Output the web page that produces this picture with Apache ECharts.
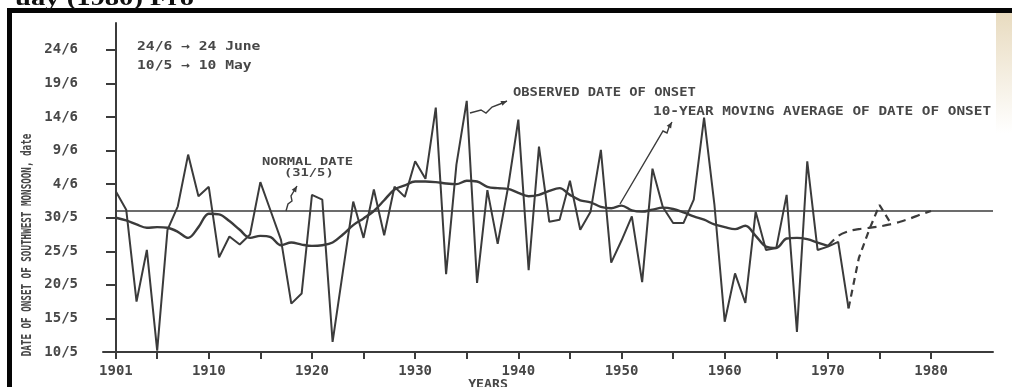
<!DOCTYPE html>
<html>
<head>
<meta charset="utf-8">
<script src="https://cdn.jsdelivr.net/npm/echarts@6/dist/echarts.min.js"></script>
<style>
  html, body { margin: 0; padding: 0; background: #ffffff; }
  #chart { width: 1012px; height: 387px; }
</style>
</head>
<body>
<div id="chart"></div>
<script>
// Onset date of the southwest monsoon, expressed as day of May
// (31 = 31 May, 35 = 4 June, 55 = 24 June).
const onsetYears = [
  1901, 1902, 1903, 1904, 1905, 1906, 1907, 1908, 1909, 1910,
  1911, 1912, 1913, 1914, 1915, 1916, 1917, 1918, 1919, 1920,
  1921, 1922, 1923, 1924, 1925, 1926, 1927, 1928, 1929, 1930,
  1931, 1932, 1933, 1934, 1935, 1936, 1937, 1938, 1939, 1940,
  1941, 1942, 1943, 1944, 1945, 1946, 1947, 1948, 1949, 1950,
  1951, 1952, 1953, 1954, 1955, 1956, 1957, 1958, 1959, 1960,
  1961, 1962, 1963, 1964, 1965, 1966, 1967, 1968, 1969, 1970,
  1971, 1972
];
const observedOnset = [
  33.9, 31.2, 17.5, 25.2, 10.2, 28.2, 31.7, 39.4, 33.2, 34.6,
  24.1, 27.2, 26.0, 27.5, 35.3, 31.0, 26.7, 17.2, 18.7, 33.4,
  32.7, 11.5, 22.0, 32.4, 27.0, 34.2, 27.4, 34.6, 33.1, 38.4,
  35.8, 46.4, 21.6, 37.9, 47.4, 20.3, 34.1, 26.1, 34.5, 44.6,
  22.2, 40.6, 29.4, 29.7, 35.5, 28.2, 30.9, 40.1, 23.3, 26.6,
  30.2, 20.4, 37.3, 31.6, 29.2, 29.2, 32.7, 44.9, 32.0, 14.5,
  21.7, 17.3, 30.9, 25.2, 25.5, 33.4, 13.0, 38.4, 25.2, 25.7,
  26.4, 16.5
];
// 10-year moving average, 1901-1970
const movingAverage = [
  30.0, 29.6, 29.0, 28.5, 28.6, 28.5, 27.9, 27.0, 28.6, 30.6,
  30.5, 29.5, 28.2, 27.0, 27.3, 27.1, 25.9, 26.3, 26.0, 25.8,
  25.9, 26.3, 27.5, 28.9, 29.9, 31.0, 32.6, 34.2, 34.8, 35.4,
  35.4, 35.3, 35.1, 35.0, 35.5, 35.4, 34.6, 34.4, 34.3, 33.7,
  33.2, 33.4, 34.0, 34.4, 33.4, 32.6, 32.3, 31.6, 31.4, 31.8,
  31.1, 30.9, 31.2, 31.5, 31.3, 30.8, 30.2, 29.7, 29.0, 28.6,
  28.3, 28.8, 27.3, 25.7, 25.5, 26.9, 27.0, 26.8, 26.3, 25.8
];
// dashed continuations
const maExtYears = [1970, 1971, 1972, 1973, 1974, 1975, 1976, 1977, 1978, 1979, 1980];
const maExtension = [25.8, 27.3, 28.0, 28.3, 28.5, 28.7, 29.0, 29.4, 29.9, 30.5, 31.0];
const obsExtYears = [1972, 1973, 1974, 1975, 1976];
const obsExtension = [16.5, 24.0, 28.2, 31.9, 29.4];

const normalOnset = 31;
const yTickValues = [10, 15, 20, 25, 30, 35, 40, 45, 50, 55];
const xTickValues = [1901, 1905, 1910, 1915, 1920, 1925, 1930, 1935, 1940, 1945, 1950, 1955, 1960, 1965, 1970, 1975, 1980];
const xLabelValues = [1901, 1910, 1920, 1930, 1940, 1950, 1960, 1970, 1980];

function dayLabel(v) {
  return v <= 31 ? v + '/5' : (v - 31) + '/6';
}
function pairs(xs, ys) {
  return xs.map(function (x, i) { return [x, ys[i]]; });
}

const INK = '#3b3b3b';
const TEXT = '#474747';
const MONO = '"DejaVu Sans Mono", "Liberation Mono", monospace';

// small filled arrow head at the end of a pointer line
function arrowHead(pts, len, half) {
  const a = pts[pts.length - 2], b = pts[pts.length - 1];
  const dx = b[0] - a[0], dy = b[1] - a[1];
  const d = Math.hypot(dx, dy) || 1;
  const ux = dx / d, uy = dy / d;
  const bx = b[0] - ux * len, by = b[1] - uy * len;
  return {
    type: 'polygon',
    shape: { points: [[b[0], b[1]], [bx - uy * half, by + ux * half], [bx + uy * half, by - ux * half]] },
    style: { fill: INK }
  };
}
function pointer(pts) {
  return [
    { type: 'polyline', shape: { points: pts }, style: { stroke: INK, lineWidth: 1.4, fill: null } },
    arrowHead(pts, 6, 2.6)
  ];
}
function note(text, x, y, opts) {
  opts = opts || {};
  return {
    type: 'text', x: x, y: y,
    scaleX: opts.scaleX || 1.2,
    rotation: opts.rotation || 0,
    style: {
      text: text,
      font: (opts.weight || 'bold') + ' ' + (opts.size || 12) + 'px ' + (opts.family || MONO),
      fill: opts.fill || TEXT,
      textAlign: opts.align || 'left',
      textVerticalAlign: opts.valign || 'middle'
    }
  };
}

const normalPointer = [[286, 211], [288, 204], [292, 201], [291, 196], [294, 191], [297, 186]];
const observedPointer = [[470, 113], [481, 110], [486, 113], [492, 107], [500, 104], [507, 101]];
const averagePointer = [[620, 204], [663, 131], [667, 133], [669, 127], [672, 122]];

const graphics = [
  // scanned page border
  { type: 'rect', shape: { x: 7, y: 8, width: 1005, height: 5 }, style: { fill: '#050505' } },
  { type: 'rect', shape: { x: 7, y: 8, width: 5, height: 379 }, style: { fill: '#050505' } },
  {
    type: 'rect', shape: { x: 996, y: 13, width: 16, height: 120 },
    style: {
      fill: {
        type: 'linear', x: 0, y: 0, x2: 0, y2: 1,
        colorStops: [{ offset: 0, color: 'rgba(214,190,140,0.55)' }, { offset: 1, color: 'rgba(214,190,140,0)' }]
      }
    }
  },
  // caption of the page above the figure (cut off)
  {
    type: 'text', x: 15, y: 10, scaleX: 1.3,
    style: { text: 'uay (1980) Fro', font: 'bold 22px "Liberation Serif", serif', fill: '#111', textAlign: 'left', textVerticalAlign: 'bottom' }
  },
  note('24/6 \u2192 24 June', 137, 47, { scaleX: 1.22 }),
  note('10/5 \u2192 10 May', 137, 66, { scaleX: 1.22 }),
  note('NORMAL DATE', 262, 162, { size: 11, scaleX: 1.25 }),
  note('(31/5)', 284, 173, { size: 11, scaleX: 1.25 }),
  note('OBSERVED DATE OF ONSET', 513, 93, { scaleX: 1.15 }),
  note('10-YEAR MOVING AVERAGE OF DATE OF ONSET', 653, 112, { scaleX: 1.2 }),
  note('YEARS', 488, 379, { scaleX: 1.1, align: 'center', valign: 'top' }),
  note('DATE OF ONSET OF SOUTHWEST MONSOON, date', 27, 245,
       { size: 14, scaleX: 0.66, rotation: Math.PI / 2, align: 'center' })
].concat(pointer(normalPointer), pointer(observedPointer), pointer(averagePointer));

const chart = echarts.init(document.getElementById('chart'), null, { renderer: 'canvas' });
chart.setOption({
  animation: false,
  backgroundColor: '#ffffff',
  grid: { left: 103, right: 19, top: 23, bottom: 35, containLabel: false, outerBoundsMode: 'none' },
  xAxis: {
    type: 'value',
    min: 1899.75,
    max: 1986,
    axisLine: { show: true, onZero: false, lineStyle: { color: INK, width: 2 } },
    axisTick: { show: true, length: 7, lineStyle: { color: INK, width: 2 }, customValues: xTickValues },
    axisLabel: {
      show: true, margin: 12, color: TEXT,
      fontFamily: MONO, fontWeight: 'bold', fontSize: 14,
      customValues: xLabelValues,
      formatter: function (v) { return String(v); }
    },
    splitLine: { show: false }
  },
  yAxis: {
    type: 'value',
    min: 10,
    max: 59,
    offset: -13,
    axisLine: { show: true, lineStyle: { color: INK, width: 2 } },
    axisTick: { show: true, length: 10, lineStyle: { color: INK, width: 2 }, customValues: yTickValues },
    axisLabel: {
      show: true, margin: 38, color: TEXT,
      fontFamily: MONO, fontWeight: 'bold', fontSize: 14,
      customValues: yTickValues,
      formatter: dayLabel
    },
    splitLine: { show: false }
  },
  series: [
    {
      name: 'Observed date of onset',
      type: 'line',
      data: pairs(onsetYears, observedOnset),
      symbol: 'none',
      lineStyle: { color: INK, width: 2 },
      z: 3,
      markLine: {
        silent: true,
        symbol: 'none',
        label: { show: false },
        lineStyle: { color: INK, width: 1.5, type: 'solid' },
        data: [[{ coord: [1901, normalOnset] }, { coord: [1986, normalOnset] }]]
      }
    },
    {
      name: '10-year moving average',
      type: 'line',
      data: pairs(onsetYears.slice(0, movingAverage.length), movingAverage),
      symbol: 'none',
      smooth: 0.35,
      lineStyle: { color: INK, width: 2.4 },
      z: 4
    },
    {
      name: 'Moving average (continued)',
      type: 'line',
      data: pairs(maExtYears, maExtension),
      symbol: 'none',
      smooth: 0.3,
      lineStyle: { color: INK, width: 2.2, type: [9, 6] },
      z: 4
    },
    {
      name: 'Observed (continued)',
      type: 'line',
      data: pairs(obsExtYears, obsExtension),
      symbol: 'none',
      lineStyle: { color: INK, width: 2.2, type: [7, 5] },
      z: 4
    }
  ],
  graphic: { elements: graphics }
});
</script>
</body>
</html>
